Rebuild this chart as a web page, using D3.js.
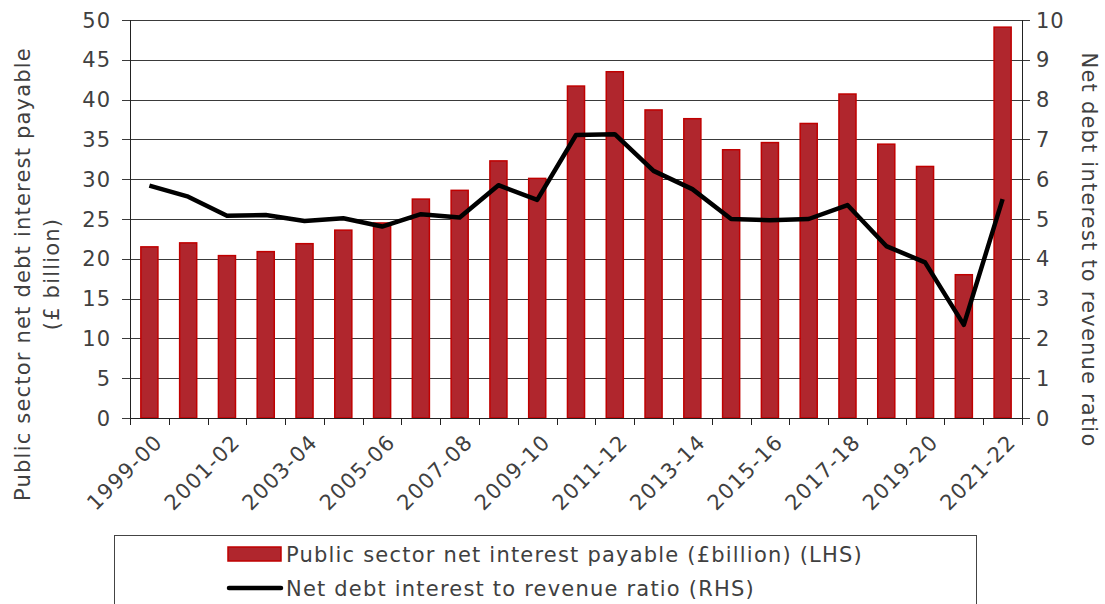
<!DOCTYPE html>
<html>
<head>
<meta charset="utf-8">
<script src="https://cdn.jsdelivr.net/npm/d3@7"></script>
<style>
  body { margin: 0; background: #fff; }
  svg { display: block; font-family: 'DejaVu Sans', sans-serif; }
</style>
</head>
<body>
<div id="chart"></div>
<script>
'use strict';

var years = ['1999-00', '2000-01', '2001-02', '2002-03', '2003-04', '2004-05', '2005-06', '2006-07',
  '2007-08', '2008-09', '2009-10', '2010-11', '2011-12', '2012-13', '2013-14', '2014-15',
  '2015-16', '2016-17', '2017-18', '2018-19', '2019-20', '2020-21', '2021-22'];

// £ billion, left axis
var interestPayable = [21.5, 22.0, 20.4, 20.9, 21.9, 23.6, 24.5, 27.5, 28.6, 32.3, 30.1, 41.7,
  43.5, 38.7, 37.6, 33.7, 34.6, 37.0, 40.7, 34.4, 31.6, 18.0, 49.1];

// ratio, right axis
var revenueRatio = [5.84, 5.56, 5.08, 5.10, 4.95, 5.02, 4.81, 5.12, 5.04, 5.85, 5.48, 7.11,
  7.13, 6.21, 5.75, 5.0, 4.97, 5.0, 5.35, 4.32, 3.91, 2.34, 5.5];

var leftTicks = [0, 5, 10, 15, 20, 25, 30, 35, 40, 45, 50];
var rightTicks = [0, 1, 2, 3, 4, 5, 6, 7, 8, 9, 10];

var legendLabels = ['Public sector net interest payable (£billion) (LHS)',
  'Net debt interest to revenue ratio (RHS)'];

var width = 1105;
var height = 604;
var margin = { top: 20, right: 83, bottom: 186, left: 130 };
var plotW = width - margin.left - margin.right;
var plotH = height - margin.top - margin.bottom;

var textColor = '#404040';
var fontSize = 21;
var spacing = 1.2;

var svg = d3.select('#chart')
  .append('svg')
  .attr('width', width)
  .attr('height', height);

var g = svg.append('g')
  .attr('transform', 'translate(' + margin.left + ',' + margin.top + ')');

var x = d3.scaleBand().domain(years).range([0, plotW]).paddingInner(0.56).paddingOuter(0.28);
var band = d3.scaleBand().domain(years).range([0, plotW]);
var yL = d3.scaleLinear().domain([0, 50]).range([plotH, 0]);
var yR = d3.scaleLinear().domain([0, 10]).range([plotH, 0]);

// gridlines
g.append('g')
  .selectAll('line')
  .data(leftTicks)
  .enter()
  .append('line')
  .attr('x1', -8)
  .attr('x2', plotW)
  .attr('y1', function (d) { return Math.round(yL(d)) + 0.5; })
  .attr('y2', function (d) { return Math.round(yL(d)) + 0.5; })
  .attr('stroke', '#3a3a3a')
  .attr('stroke-width', 1);

// right ticks
g.append('g')
  .selectAll('line')
  .data(rightTicks)
  .enter()
  .append('line')
  .attr('x1', plotW)
  .attr('x2', plotW + 8)
  .attr('y1', function (d) { return Math.round(yR(d)) + 0.5; })
  .attr('y2', function (d) { return Math.round(yR(d)) + 0.5; })
  .attr('stroke', '#3a3a3a');

// bars
g.append('g')
  .selectAll('rect')
  .data(interestPayable)
  .enter()
  .append('rect')
  .attr('x', function (d, i) { return x(years[i]); })
  .attr('y', function (d) { return yL(d); })
  .attr('width', x.bandwidth())
  .attr('height', function (d) { return plotH - yL(d); })
  .attr('fill', '#b0262d')
  .attr('stroke', '#c00000')
  .attr('stroke-width', 1.5);

// axis lines
g.append('line')
  .attr('x1', 0.5).attr('x2', 0.5).attr('y1', 0).attr('y2', plotH)
  .attr('stroke', '#222');
g.append('line')
  .attr('x1', plotW + 0.5).attr('x2', plotW + 0.5).attr('y1', 0).attr('y2', plotH)
  .attr('stroke', '#222');
g.append('line')
  .attr('x1', 0).attr('x2', plotW).attr('y1', plotH + 0.5).attr('y2', plotH + 0.5)
  .attr('stroke', '#222');

// x ticks between categories
var boundaries = years.map(function (d) { return band(d); }).concat([plotW]);
g.append('g')
  .selectAll('line')
  .data(boundaries)
  .enter()
  .append('line')
  .attr('x1', function (d) { return Math.round(d) + 0.5; })
  .attr('x2', function (d) { return Math.round(d) + 0.5; })
  .attr('y1', plotH)
  .attr('y2', plotH + 7)
  .attr('stroke', '#222');

// line series
var valueline = d3.line()
  .x(function (d, i) { return band(years[i]) + band.bandwidth() / 2; })
  .y(function (d) { return yR(d); });

g.append('path')
  .attr('d', valueline(revenueRatio))
  .attr('fill', 'none')
  .attr('stroke', '#000')
  .attr('stroke-width', 4.5)
  .attr('stroke-linejoin', 'round');

// left tick labels
g.append('g')
  .selectAll('text')
  .data(leftTicks)
  .enter()
  .append('text')
  .attr('x', -19)
  .attr('y', function (d) { return yL(d); })
  .attr('dy', '0.36em')
  .attr('text-anchor', 'end')
  .attr('font-size', fontSize)
  .attr('letter-spacing', 1)
  .attr('fill', textColor)
  .text(function (d) { return d; });

// right tick labels
g.append('g')
  .selectAll('text')
  .data(rightTicks)
  .enter()
  .append('text')
  .attr('x', plotW + 14)
  .attr('y', function (d) { return yR(d); })
  .attr('dy', '0.36em')
  .attr('text-anchor', 'start')
  .attr('font-size', fontSize)
  .attr('letter-spacing', 1)
  .attr('fill', textColor)
  .text(function (d) { return d; });

// x labels, every other year
g.append('g')
  .selectAll('text')
  .data(years.filter(function (d, i) { return i % 2 === 0; }))
  .enter()
  .append('text')
  .attr('transform', function (d) {
    return 'translate(' + (band(d) + band.bandwidth() / 2 + 4) + ',' + (plotH + 15) + ') rotate(-45)';
  })
  .attr('text-anchor', 'end')
  .attr('dy', '0.7em')
  .attr('font-size', fontSize)
  .attr('letter-spacing', spacing)
  .attr('fill', textColor)
  .text(function (d) { return d; });

// axis titles
svg.append('text')
  .attr('transform', 'translate(30,274) rotate(-90)')
  .attr('text-anchor', 'middle')
  .attr('font-size', fontSize)
  .attr('letter-spacing', spacing)
  .attr('fill', textColor)
  .text('Public sector net debt interest payable');
svg.append('text')
  .attr('transform', 'translate(59,274) rotate(-90)')
  .attr('text-anchor', 'middle')
  .attr('font-size', fontSize)
  .attr('letter-spacing', spacing)
  .attr('fill', textColor)
  .text('(£ billion)');
svg.append('text')
  .attr('transform', 'translate(1082,250) rotate(90)')
  .attr('text-anchor', 'middle')
  .attr('font-size', fontSize)
  .attr('letter-spacing', spacing)
  .attr('fill', textColor)
  .text('Net debt interest to revenue ratio');

// legend
var legend = svg.append('g');
legend.append('rect')
  .attr('x', 114.5)
  .attr('y', 535.5)
  .attr('width', 862)
  .attr('height', 80)
  .attr('fill', '#fff')
  .attr('stroke', '#444');

legend.append('rect')
  .attr('x', 228)
  .attr('y', 547)
  .attr('width', 53)
  .attr('height', 14)
  .attr('fill', '#b0262d')
  .attr('stroke', '#c00000')
  .attr('stroke-width', 1.5);

legend.append('line')
  .attr('x1', 229)
  .attr('x2', 281)
  .attr('y1', 588)
  .attr('y2', 588)
  .attr('stroke', '#000')
  .attr('stroke-width', 4.5)
  .attr('stroke-linecap', 'round');

legend.selectAll('text.leg')
  .data(legendLabels)
  .enter()
  .append('text')
  .attr('class', 'leg')
  .attr('x', 286)
  .attr('y', function (d, i) { return 554 + i * 34; })
  .attr('dy', '0.36em')
  .attr('font-size', fontSize)
  .attr('letter-spacing', spacing)
  .attr('fill', textColor)
  .text(function (d) { return d; });
</script>
</body>
</html>
